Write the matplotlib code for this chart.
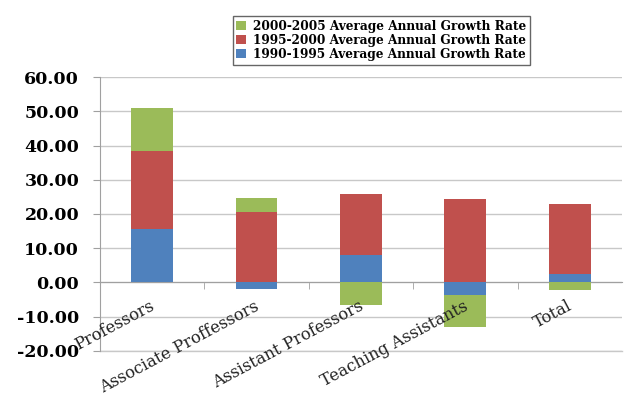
import numpy as np
import matplotlib
matplotlib.use('Agg')
import matplotlib.pyplot as plt
from matplotlib.ticker import MultipleLocator, FixedLocator

categories = ['Professors', 'Associate Proffessors', 'Assistant Professors',
              'Teaching Assistants', 'Total']
rate_1990_1995 = [15.7, -2.0, 8.0, -3.7, 2.4]
rate_1995_2000 = [22.8, 20.6, 17.8, 24.4, 20.6]
rate_2000_2005 = [12.4, 4.2, -6.7, -9.3, -2.3]

series = [
    ('1990-1995 Average Annual Growth Rate', rate_1990_1995, '#4F81BD'),
    ('1995-2000 Average Annual Growth Rate', rate_1995_2000, '#C0504D'),
    ('2000-2005 Average Annual Growth Rate', rate_2000_2005, '#9BBB59'),
]

fig = plt.figure(figsize=(6.25, 3.97), dpi=100)
ax = fig.add_axes([0.16, 0.116, 0.835, 0.69])

x = np.arange(len(categories))
pos_bottom = np.zeros(len(categories))
neg_bottom = np.zeros(len(categories))
handles = []
for label, vals, color in series:
    vals = np.array(vals)
    bottom = np.where(vals >= 0, pos_bottom, neg_bottom)
    h = ax.bar(x, vals, width=0.4, bottom=bottom, color=color, label=label, zorder=3)
    handles.append(h)
    pos_bottom += np.where(vals >= 0, vals, 0)
    neg_bottom += np.where(vals < 0, vals, 0)

ax.set_xlim(-0.5, len(categories) - 0.5)
ax.set_ylim(-20, 60)
ax.yaxis.set_major_locator(MultipleLocator(10))
ax.yaxis.set_major_formatter(matplotlib.ticker.FormatStrFormatter('%.2f'))
ax.grid(axis='y', color='#c8c8c8', linewidth=1.0, zorder=0)
ax.axhline(-20, color='#c8c8c8', linewidth=1.0, zorder=1, clip_on=False)
ax.set_axisbelow(True)

for side in ['top', 'right']:
    ax.spines[side].set_visible(False)
ax.spines['left'].set_color('#a0a0a0')
ax.spines['bottom'].set_position(('data', 0))
ax.spines['bottom'].set_color('#a0a0a0')
ax.spines['bottom'].set_zorder(2)

# category labels drawn as text so they sit on top of the bars
ax.set_xticks(x)
ax.set_xticklabels([])
for xi, name in zip(x, categories):
    ax.annotate(name, xy=(xi, 0), xytext=(4, -11), textcoords='offset points',
                rotation=28, ha='right', va='top', fontfamily='DejaVu Serif',
                fontsize=11.8, color='#222222', zorder=6, annotation_clip=False)

ax.xaxis.set_minor_locator(FixedLocator(np.arange(0.5, len(categories) - 1, 1.0)))
ax.tick_params(axis='x', which='major', length=0)
ax.tick_params(axis='x', which='minor', length=5, color='#a0a0a0', direction='out')
ax.tick_params(axis='y', length=5, color='#a0a0a0', pad=10)
for t in ax.get_yticklabels():
    t.set_fontfamily('DejaVu Serif')
    t.set_fontweight('bold')
    t.set_fontsize(12.5)

leg = fig.legend(handles[::-1], [s[0] for s in series][::-1], loc='upper center',
                 bbox_to_anchor=(0.61, 0.975), ncol=1, frameon=True, fancybox=False,
                 handlelength=0.8, handleheight=0.8, handletextpad=0.6,
                 labelspacing=0.1, borderpad=0.3,
                 prop={'family': 'DejaVu Serif', 'weight': 'bold', 'size': 8.7})
leg.get_frame().set_edgecolor('#404040')
leg.get_frame().set_linewidth(1.0)

fig.savefig('out.png', dpi=100)
